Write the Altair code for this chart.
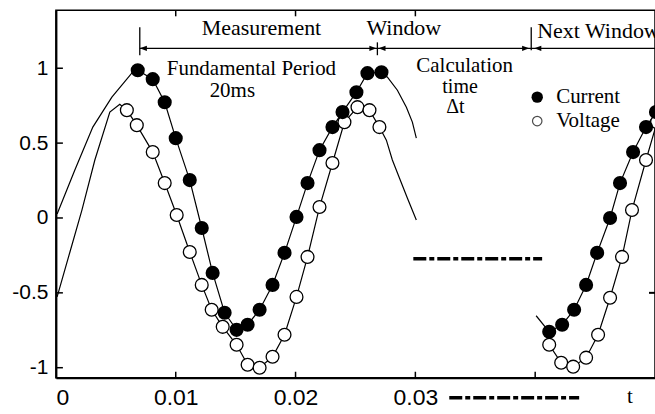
import altair as alt
import pandas as pd

# ---------------- data (time in s, per-unit value) ----------------
cur_fit_left_t = [0.0001, 0.00158, 0.00308, 0.00467, 0.00633, 0.00683]
cur_fit_left_v = [0.027, 0.32, 0.607, 0.807, 0.967, 0.987]

cur_win_t = [0.00683, 0.00808, 0.00908, 0.0100, 0.01117, 0.01217, 0.01308, 0.01408,
             0.01508, 0.0160, 0.0170, 0.01808, 0.01908, 0.02008, 0.0210, 0.0220,
             0.02308, 0.02392, 0.02508, 0.0260, 0.02717]
cur_win_v = [0.987, 0.927, 0.773, 0.533, 0.253, -0.067, -0.367, -0.633,
             -0.747, -0.713, -0.613, -0.447, -0.233, 0.007, 0.233, 0.453,
             0.607, 0.707, 0.84, 0.967, 0.973]

cur_fit_right_t = [0.02717, 0.02767, 0.0285, 0.02925, 0.02975, 0.03008]
cur_fit_right_v = [0.973, 0.94, 0.853, 0.74, 0.64, 0.533]

cur_next_lead_t = [0.04008, 0.04117]
cur_next_lead_v = [-0.653, -0.76]
cur_next_t = [0.04117, 0.04225, 0.04325, 0.04425, 0.04517, 0.04625, 0.04708,
              0.04817, 0.04925, 0.05008, 0.0512]
cur_next_v = [-0.76, -0.713, -0.613, -0.447, -0.233, 0.0, 0.233,
              0.44, 0.607, 0.707, 0.84]

volt_fit_left_t = [0.0001, 0.00117, 0.00217, 0.00325, 0.0045, 0.00533, 0.00592]
volt_fit_left_v = [-0.527, -0.227, 0.053, 0.387, 0.707, 0.76, 0.72]

volt_win_t = [0.00592, 0.00675, 0.00808, 0.00908, 0.01008, 0.01117, 0.01217, 0.0130,
              0.01392, 0.01508, 0.0160, 0.0170, 0.01808, 0.01908, 0.02008, 0.0210,
              0.0220, 0.02308, 0.02408, 0.02517, 0.02617, 0.0270]
volt_win_v = [0.72, 0.62, 0.44, 0.233, 0.02, -0.227, -0.447, -0.613,
              -0.727, -0.847, -0.98, -1.0, -0.927, -0.78, -0.527, -0.26,
              0.073, 0.367, 0.64, 0.74, 0.72, 0.607]

volt_fit_right_t = [0.0270, 0.02758, 0.02808, 0.02867, 0.02933, 0.03008]
volt_fit_right_v = [0.607, 0.52, 0.387, 0.267, 0.133, -0.013]

volt_next_t = [0.04117, 0.04217, 0.04317, 0.04425, 0.04525, 0.04625, 0.04725,
               0.04808, 0.04925, 0.05017]
volt_next_v = [-0.847, -0.967, -0.993, -0.933, -0.78, -0.533, -0.26,
               0.053, 0.387, 0.64]

x_label_values = [0, 0.01, 0.02, 0.03]
x_tick_bottom = [0.01, 0.02, 0.03, 0.04]
x_tick_top = [0.01, 0.02, 0.03]
y_tick_values = [-1, -0.5, 0, 0.5, 1]
y_tick_right = [-0.5]

# annotations
ann_text = ["Measurement", "Window", "Next Window", "Fundamental Period", "20ms",
            "Calculation", "time", "\u0394t", "Current", "Voltage", "t"]
ann_t = [0.01217, 0.02592, 0.04017, 0.00925, 0.01283,
         0.03008, 0.03225, 0.03258, 0.04175, 0.04175, 0.04767]
ann_v = [1.22, 1.22, 1.20, 0.953, 0.807,
         0.975, 0.835, 0.70, 0.767, 0.607, -1.233]
ann_fs = [22, 22, 22, 21, 21, 21, 20, 20, 21, 21, 21]

# ---------------- build tables ----------------
rows = []
def add(seg, series, ts, vs, marker):
    for i, (t, v) in enumerate(zip(ts, vs)):
        rows.append(dict(seg=seg, series=series, t=t, v=v, i=i, marker=marker))

add("cfl", "Current", cur_fit_left_t, cur_fit_left_v, False)
add("cw", "Current", cur_win_t, cur_win_v, True)
add("cfr", "Current", cur_fit_right_t, cur_fit_right_v, False)
add("cnl", "Current", cur_next_lead_t, cur_next_lead_v, False)
add("cn", "Current", cur_next_t, cur_next_v, True)
add("vfl", "Voltage", volt_fit_left_t, volt_fit_left_v, False)
add("vw", "Voltage", volt_win_t, volt_win_v, True)
add("vfr", "Voltage", volt_fit_right_t, volt_fit_right_v, False)
add("vn", "Voltage", volt_next_t, volt_next_v, True)
df = pd.DataFrame(rows)

PLOT_W, PLOT_H = 600, 368
xs = alt.Scale(domain=[0, 0.05], nice=False, zero=False)
ys = alt.Scale(domain=[-1.067, 1.387], nice=False, zero=False)

X = alt.X("t:Q", scale=xs, axis=alt.Axis(
    values=x_label_values, labelExpr="'' + datum.value", ticks=False, grid=False,
    domainColor="black", domainWidth=2, labelColor="black",
    labelFont="Liberation Sans Narrow, Liberation Sans, Arial, sans-serif",
    labelFontSize=23, labelPadding=9, title=None))
Y = alt.Y("v:Q", scale=ys, axis=alt.Axis(
    values=y_tick_values, labelExpr="'' + datum.value", ticks=False, grid=False,
    domainColor="black", domainWidth=2, labelColor="black",
    labelFont="Liberation Sans, Arial, sans-serif", labelFontSize=21,
    labelPadding=8, title=None))

base = alt.Chart(df)
lines = base.mark_line(color="black", strokeWidth=1.2, clip=True).encode(
    x=X, y=Y, detail="seg:N", order="i:Q")
volt_pts = base.transform_filter("datum.marker && datum.series == 'Voltage'").mark_point(
    shape="circle", filled=False, color="black", fill="white", fillOpacity=1,
    strokeWidth=1.3, size=165, clip=True).encode(x="t:Q", y="v:Q")
cur_pts = base.transform_filter("datum.marker && datum.series == 'Current'").mark_point(
    shape="circle", filled=True, color="black", opacity=1, size=200, clip=True
).encode(x="t:Q", y="v:Q")

# axis ticks (inward)
tb = alt.Chart(pd.DataFrame({"t": x_tick_bottom})).mark_rule(color="black", strokeWidth=1.5).encode(
    x="t:Q", y=alt.value(PLOT_H - 6), y2=alt.value(PLOT_H))
tt = alt.Chart(pd.DataFrame({"t": x_tick_top})).mark_rule(color="black", strokeWidth=1.5).encode(
    x="t:Q", y=alt.value(0), y2=alt.value(6))
tl = alt.Chart(pd.DataFrame({"v": y_tick_values})).mark_rule(color="black", strokeWidth=1.5).encode(
    y="v:Q", x=alt.value(0), x2=alt.value(7))
tr = alt.Chart(pd.DataFrame({"v": y_tick_right})).mark_rule(color="black", strokeWidth=2).encode(
    y="v:Q", x=alt.value(PLOT_W - 6), x2=alt.value(PLOT_W))

# measurement window annotation lines
hline = pd.DataFrame({"t": [0.007], "t2": [0.0505], "v": [1.133]})
arrow_line = alt.Chart(hline).mark_rule(color="black", strokeWidth=1.3).encode(
    x="t:Q", x2="t2:Q", y="v:Q")
vlines = pd.DataFrame({"t": [0.007, 0.02683, 0.03967],
                       "v": [1.273, 1.173, 1.273], "v2": [1.087, 1.087, 1.12]})
vline_marks = alt.Chart(vlines).mark_rule(color="black", strokeWidth=1.3).encode(
    x="t:Q", y="v:Q", y2="v2:Q")
arr_left = pd.DataFrame({"t": [0.007, 0.02692, 0.03992], "v": [1.133] * 3})
arr_right = pd.DataFrame({"t": [0.02675, 0.03950], "v": [1.133] * 2})
al = alt.Chart(arr_left).mark_point(shape="M0,0L1,-0.38L1,0.38Z", filled=True,
                                    color="black", opacity=1, size=200).encode(x="t:Q", y="v:Q")
ar = alt.Chart(arr_right).mark_point(shape="M0,0L-1,-0.38L-1,0.38Z", filled=True,
                                     color="black", opacity=1, size=200).encode(x="t:Q", y="v:Q")

# dash-dot lines
dd = pd.DataFrame({"t": [0.02983, 0.03283], "t2": [0.04058, 0.04367], "v": [-0.273, -1.2]})
dashdot = alt.Chart(dd).mark_rule(color="black", strokeWidth=3.5,
                                  strokeDash=[13, 3, 5, 3]).encode(x="t:Q", x2="t2:Q", y="v:Q")

# texts
tdf = pd.DataFrame({"t": ann_t, "v": ann_v, "txt": ann_text, "fs": ann_fs})
texts = alt.Chart(tdf).mark_text(align="left", baseline="alphabetic", color="black",
                                 font="Liberation Serif, Times New Roman, serif").encode(
    x="t:Q", y="v:Q", text="txt:N", size=alt.Size("fs:Q", scale=None))

# legend symbols
leg = pd.DataFrame({"t": [0.04017, 0.04017], "v": [0.807, 0.647], "series": ["Current", "Voltage"]})
leg_c = alt.Chart(leg).transform_filter("datum.series == 'Current'").mark_point(
    shape="circle", filled=True, color="black", opacity=1, size=130).encode(x="t:Q", y="v:Q")
leg_v = alt.Chart(leg).transform_filter("datum.series == 'Voltage'").mark_point(
    shape="circle", filled=False, color="black", strokeWidth=1.2, size=90).encode(x="t:Q", y="v:Q")

chart = alt.layer(
    lines, volt_pts, cur_pts, tb, tt, tl, tr, arrow_line, vline_marks, al, ar,
    dashdot, texts, leg_c, leg_v
).properties(
    width=PLOT_W, height=PLOT_H,
    autosize=alt.AutoSizeParams(type="none"),
    padding={"left": 56, "top": 10, "right": 0, "bottom": 36},
    background="white",
).configure_view(stroke="black", strokeWidth=1.5)

chart.save("out.html", embed_options={"renderer": "svg", "actions": False})
